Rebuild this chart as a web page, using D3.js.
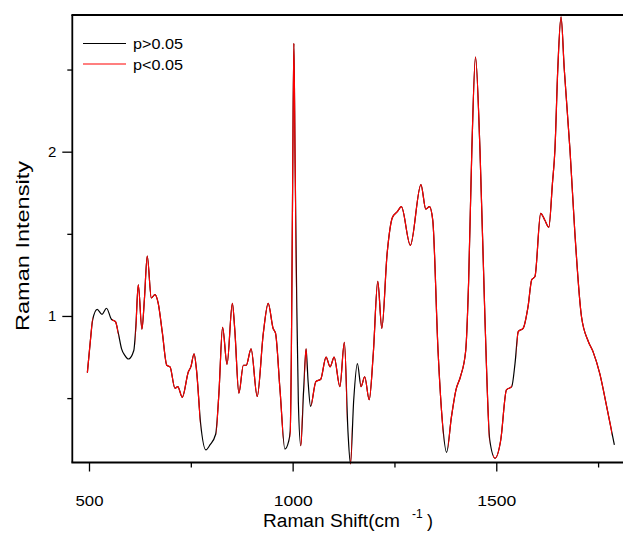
<!DOCTYPE html>
<html>
<head>
<meta charset="utf-8">
<script src="https://cdn.jsdelivr.net/npm/d3@7"></script>
<style>
    body { margin: 0; background: #fff; }
    text { font-family: "Liberation Sans", Arial, sans-serif; }
</style>
</head>
<body>
<div id="chart"></div>
<script>
// Raman shift (cm-1) and intensity
var shift = [496, 503, 509, 520, 532, 543, 555, 565, 572, 580, 588, 597, 610, 615, 621, 630, 636, 643,
    653, 662, 670, 680, 691, 699, 711, 718, 729, 744, 750, 758, 764, 774, 787, 797, 811, 819, 828,
    839, 852, 858, 868, 879, 886, 898, 913, 928, 940, 952, 958, 969, 981, 990, 994, 997, 1000, 1003,
    1006, 1010, 1014, 1020, 1027, 1033, 1038, 1044, 1057, 1069, 1082, 1092, 1102, 1116, 1127, 1136,
    1142, 1150, 1159, 1168, 1177, 1188, 1198, 1209, 1219, 1232, 1245, 1257, 1267, 1289, 1315, 1327,
    1336, 1344, 1357, 1368, 1378, 1390, 1401, 1412, 1425, 1432, 1440, 1449, 1460, 1472, 1484, 1497,
    1511, 1525, 1538, 1546, 1554, 1566, 1578, 1587, 1595, 1609, 1619, 1629, 1638, 1644, 1651, 1659,
    1667, 1681, 1693, 1709, 1726, 1738, 1754, 1771, 1790];
var intensity = [0.655, 0.84, 0.976, 1.04, 1.01, 1.047, 0.98, 0.965, 0.895, 0.80, 0.76, 0.738, 0.79,
    0.935, 1.19, 0.92, 1.1, 1.365, 1.11, 1.13, 1.077, 0.9, 0.70, 0.69, 0.56, 0.57, 0.505, 0.66, 0.69,
    0.77, 0.67, 0.347, 0.185, 0.215, 0.28, 0.53, 0.93, 0.706, 1.077, 0.915, 0.53, 0.70, 0.70, 0.80,
    0.51, 0.895, 1.077, 0.925, 0.895, 0.55, 0.19, 0.235, 0.3, 0.8, 1.8, 2.66, 1.95, 1.1, 0.48, 0.21,
    0.55, 0.80, 0.6, 0.45, 0.60, 0.615, 0.75, 0.69, 0.75, 0.57, 0.84, 0.29, 0.1, 0.49, 0.71, 0.57,
    0.63, 0.49, 0.77, 1.21, 0.925, 1.38, 1.6, 1.635, 1.665, 1.43, 1.80, 1.65, 1.665, 1.584, 0.79,
    0.347, 0.17, 0.387, 0.55, 0.63, 0.79, 1.2, 2.01, 2.576, 2.01, 1.0, 0.245, 0.134, 0.245, 0.55,
    0.57, 0.71, 0.905, 0.925, 1.057, 1.22, 1.24, 1.625, 1.584, 1.54, 1.81, 2.01, 2.5, 2.82, 2.5,
    2.01, 1.505, 1.0, 0.845, 0.78, 0.65, 0.45, 0.215];

// ranges where p>0.05 (black shows through)
var nsStart = [509, 572, 773, 977, 1009, 1024, 1035, 1133, 1145, 1370, 1483, 1538, 1784];
var nsEnd = [557, 614, 813, 993, 1019, 1029, 1046, 1141, 1166, 1382, 1492, 1550, 1800];

var xTicks = [500, 1000, 1500];
var xMinor = [750, 1250, 1750];
var yTicks = [1, 2];
var yMinor = [0.5, 1.5, 2.5];

var legendLabels = ["p>0.05", "p<0.05"];
var legendColors = ["#000000", "#ff0000"];

var spectrum = shift.map(function (s, i) { return { x: s, y: intensity[i] }; });

var width = 623, height = 533;
var svg = d3.select("#chart").append("svg")
    .attr("width", width)
    .attr("height", height);

// scales, frame left/top/bottom at 72.3 / 15 / 462.5
var x = d3.scaleLinear().domain([459, 1820]).range([72.3, 626.6]);
var y = d3.scaleLinear().domain([0.108, 2.832]).range([462.5, 15]);

var line = d3.line()
    .x(function (d) { return x(d.x); })
    .y(function (d) { return y(d.y); })
    .curve(d3.curveMonotoneX);

// clip red curve to significant intervals
var sigRanges = [];
var prev = 400;
for (var i = 0; i < nsStart.length; i++) {
    sigRanges.push([prev, nsStart[i]]);
    prev = nsEnd[i];
}
sigRanges.push([prev, 1900]);

svg.append("clipPath")
    .attr("id", "sigClip")
    .selectAll("rect")
    .data(sigRanges)
    .enter().append("rect")
    .attr("x", function (d) { return x(d[0]); })
    .attr("width", function (d) { return x(d[1]) - x(d[0]); })
    .attr("y", 0)
    .attr("height", height);

svg.append("path")
    .datum(spectrum)
    .attr("fill", "none")
    .attr("stroke", "#000")
    .attr("stroke-width", 1.2)
    .attr("d", line);

svg.append("path")
    .datum(spectrum)
    .attr("fill", "none")
    .attr("stroke", "#ff0000")
    .attr("stroke-width", 1.2)
    .attr("clip-path", "url(#sigClip)")
    .attr("d", line);

// frame
var frame = svg.append("g")
    .attr("stroke", "#000")
    .attr("stroke-width", 1.8);
frame.append("line").attr("x1", 72.3).attr("x2", 72.3).attr("y1", 15).attr("y2", 462.5);
frame.append("line").attr("x1", 71.4).attr("x2", 640).attr("y1", 15).attr("y2", 15);
frame.append("line").attr("x1", 71.4).attr("x2", 640).attr("y1", 462.5).attr("y2", 462.5);

// x axis
svg.append("g")
    .attr("transform", "translate(0,462.5)")
    .call(d3.axisBottom(x).tickValues(xTicks).tickSize(9).tickPadding(24).tickFormat(d3.format("d")));
svg.append("g")
    .attr("transform", "translate(0,462.5)")
    .call(d3.axisBottom(x).tickValues(xMinor).tickSize(5).tickFormat(""));

// y axis
svg.append("g")
    .attr("transform", "translate(72.3,0)")
    .call(d3.axisLeft(y).tickValues(yTicks).tickSize(10).tickPadding(6).tickFormat(d3.format("d")));
svg.append("g")
    .attr("transform", "translate(72.3,0)")
    .call(d3.axisLeft(y).tickValues(yMinor).tickSize(5).tickFormat(""));

svg.selectAll(".domain").remove();
svg.selectAll(".tick line").attr("stroke", "#000").attr("stroke-width", 1.3);
svg.selectAll(".tick text")
    .style("font-size", "15px")
    .style("font-family", "'Liberation Sans', Arial, sans-serif")
    .attr("fill", "#000");
svg.selectAll(".tick text")
    .filter(function (d) { return d >= 500; })
    .attr("textLength", function (d) { return d >= 1000 ? 39 : 28; })
    .attr("lengthAdjust", "spacingAndGlyphs");

// axis titles (the original glyphs are drawn a bit wide)
svg.append("text")
    .attr("x", 263)
    .attr("y", 527)
    .attr("textLength", 137)
    .attr("lengthAdjust", "spacingAndGlyphs")
    .style("font-size", "18px")
    .text("Raman Shift(cm");
svg.append("text")
    .attr("x", 412)
    .attr("y", 518)
    .style("font-size", "12px")
    .text("-1");
svg.append("text")
    .attr("x", 427)
    .attr("y", 527)
    .style("font-size", "18px")
    .text(")");

svg.append("text")
    .attr("transform", "translate(29,246) rotate(-90)")
    .attr("text-anchor", "middle")
    .attr("textLength", 170)
    .attr("lengthAdjust", "spacingAndGlyphs")
    .style("font-size", "18px")
    .text("Raman Intensity");

// legend
var legend = svg.selectAll(".legend")
    .data(legendLabels)
    .enter().append("g")
    .attr("class", "legend")
    .attr("transform", function (d, i) { return "translate(83," + (43.5 + i * 20.5) + ")"; });

legend.append("line")
    .attr("x1", 0).attr("x2", 43)
    .attr("y1", 0).attr("y2", 0)
    .attr("stroke", function (d, i) { return legendColors[i]; })
    .attr("stroke-width", 1.2);

legend.append("text")
    .attr("x", 50)
    .attr("y", 5.5)
    .attr("textLength", 50)
    .attr("lengthAdjust", "spacingAndGlyphs")
    .style("font-size", "15px")
    .text(function (d) { return d; });
</script>
</body>
</html>
